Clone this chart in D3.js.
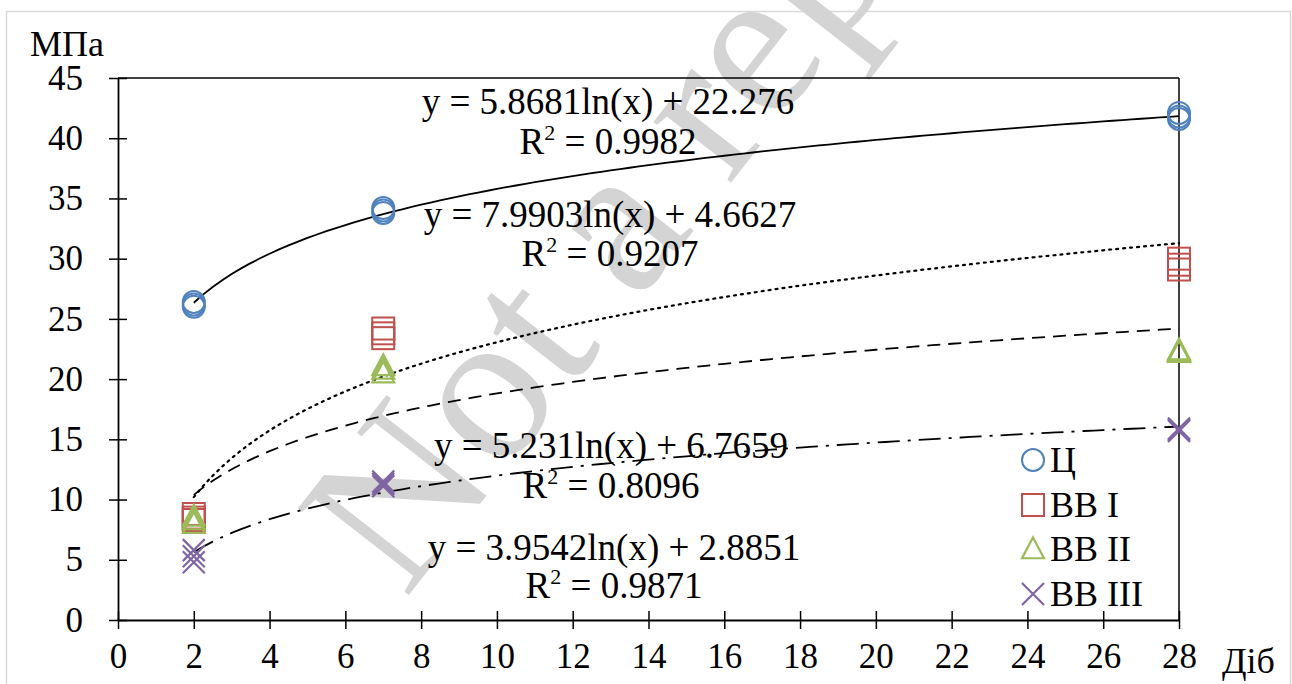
<!DOCTYPE html>
<html>
<head>
<meta charset="utf-8">
<script src="https://cdn.jsdelivr.net/npm/d3@7"></script>
<style>
  html, body { margin: 0; padding: 0; background: #fff; }
  svg { display: block; }
  text { font-family: "Liberation Serif", "Times New Roman", serif; fill: #000; }
</style>
</head>
<body>
<svg id="chart" width="1292" height="684"></svg>
<script>
// ---- data ----
const seriesNames = ["Ц", "ВВ I", "ВВ II", "ВВ III"];
const days = [2, 2, 2, 7, 7, 7, 28, 28, 28];
const valuesC    = [26.0, 26.2, 26.4, 33.8, 34.0, 34.2, 41.6, 41.8, 42.1];
const valuesBB1  = [8.3, 8.5, 8.8, 23.4, 23.8, 24.2, 29.1, 29.5, 30.0];
const valuesBB2  = [8.0, 8.3, 8.6, 20.5, 20.8, 21.1, 22.2, 22.3, 22.4];
const valuesBB3  = [4.8, 5.3, 5.8, 11.1, 11.3, 11.5, 15.7, 15.8, 15.9];
const trendA = [5.8681, 7.9903, 5.231, 3.9542];   // y = a*ln(x) + b
const trendB = [22.276, 4.6627, 6.7659, 2.8851];
const equationLabels = ["y = 5.8681ln(x) + 22.276", "y = 7.9903ln(x) + 4.6627",
                        "y = 5.231ln(x) + 6.7659", "y = 3.9542ln(x) + 2.8851"];
const r2Labels = ["0.9982", "0.9207", "0.8096", "0.9871"];
const xTicks = [0, 2, 4, 6, 8, 10, 12, 14, 16, 18, 20, 22, 24, 26, 28];
const yTicks = [0, 5, 10, 15, 20, 25, 30, 35, 40, 45];

const allValues = [valuesC, valuesBB1, valuesBB2, valuesBB3];
const colors = ["#4F81BD", "#C0504D", "#9BBB59", "#8064A2"];
const dashes = [null, "2,5", "13,8", "22,8,3,8"];
const shapes = ["circle", "square", "triangle", "cross"];

const svg = d3.select("#chart");
const m = { left: 118, right: 1179, top: 78, bottom: 620 };

// outer border
svg.append("rect").attr("x", 6.5).attr("y", 11.5).attr("width", 1284).attr("height", 700)
  .attr("fill", "#fff").attr("stroke", "#d9d9d9").attr("stroke-width", 1.5);

// watermark
svg.append("text").text("Not a rep")
  .attr("transform", "translate(405,600) rotate(-52)")
  .style("font-size", "215px").style("fill", "#d4d4d4");

const x = d3.scaleLinear().domain([0, 28]).range([m.left, m.right]);
const y = d3.scaleLinear().domain([0, 45]).range([m.bottom, m.top]);

// plot box (top & right lines)
svg.append("line").attr("x1", m.left).attr("x2", m.right).attr("y1", m.top).attr("y2", m.top)
  .attr("stroke", "#000").attr("stroke-width", 1.5);
svg.append("line").attr("x1", m.right).attr("x2", m.right).attr("y1", m.top).attr("y2", m.bottom)
  .attr("stroke", "#000").attr("stroke-width", 1.5);

// axes
const xAxis = d3.axisBottom(x).tickValues(xTicks).tickSizeInner(9).tickSizeOuter(0).tickPadding(14);
const yAxis = d3.axisLeft(y).tickValues(yTicks).tickSizeInner(9).tickSizeOuter(0).tickPadding(26);
const gx = svg.append("g").attr("transform", `translate(0,${m.bottom})`).call(xAxis);
const gy = svg.append("g").attr("transform", `translate(${m.left},0)`).call(yAxis);
[gx, gy].forEach(g => {
  g.select(".domain").attr("stroke", "#000").attr("stroke-width", 1.8);
  g.selectAll(".tick line").attr("stroke", "#000").attr("stroke-width", 1.5);
  g.selectAll(".tick text").style("font-size", "35px").style("font-family", "Liberation Serif");
});
gx.selectAll(".tick line").attr("y1", -9).attr("y2", 9);
gy.selectAll(".tick line").attr("x1", -9).attr("x2", 9);
gx.selectAll(".tick text").attr("dy", "0.71em");

// trend lines
const xs = d3.range(2, 28.001, 0.25);
trendA.forEach((a, i) => {
  const line = d3.line().x(d => x(d)).y(d => y(a * Math.log(d) + trendB[i]));
  svg.append("path").datum(xs).attr("d", line).attr("fill", "none")
    .attr("stroke", "#000").attr("stroke-width", i === 1 ? 2.2 : 1.8)
    .attr("stroke-dasharray", dashes[i])
    .attr("stroke-linecap", i === 1 ? "round" : "butt");
});

// markers
function drawMarker(g, shape, cx, cy, color, s) {
  if (shape === "circle") {
    g.append("circle").attr("cx", cx).attr("cy", cy).attr("r", s)
      .attr("fill", "none").attr("stroke", color).attr("stroke-width", 2);
  } else if (shape === "square") {
    g.append("rect").attr("x", cx - s).attr("y", cy - s).attr("width", 2 * s).attr("height", 2 * s)
      .attr("fill", "none").attr("stroke", color).attr("stroke-width", 2);
  } else if (shape === "triangle") {
    const h = s * 1.05;
    g.append("path").attr("d", `M${cx},${cy - h}L${cx + s},${cy + h * 0.8}L${cx - s},${cy + h * 0.8}Z`)
      .attr("fill", "none").attr("stroke", color).attr("stroke-width", 2.2);
  } else {
    g.append("path").attr("d", `M${cx - s},${cy - s}L${cx + s},${cy + s}M${cx - s},${cy + s}L${cx + s},${cy - s}`)
      .attr("fill", "none").attr("stroke", color).attr("stroke-width", 2.2);
  }
}
const gm = svg.append("g");
allValues.forEach((vals, i) => {
  vals.forEach((v, j) => drawMarker(gm, shapes[i], x(days[j]), y(v), colors[i], 11));
});

// equation labels
const eqPos = [[608, 114, 154], [610, 227, 266], [611, 458, 498], [614, 560, 598]];
equationLabels.forEach((t, i) => {
  svg.append("text").attr("x", eqPos[i][0]).attr("y", eqPos[i][1]).attr("text-anchor", "middle")
    .style("font-size", "37px").text(t);
  const tr = svg.append("text").attr("x", eqPos[i][0]).attr("y", eqPos[i][2]).attr("text-anchor", "middle")
    .style("font-size", "37px");
  tr.append("tspan").text("R");
  tr.append("tspan").attr("dy", -14).style("font-size", "22px").text("2");
  tr.append("tspan").attr("dy", 14).text(" = " + r2Labels[i]);
});

// axis titles
svg.append("text").attr("x", 30).attr("y", 56).style("font-size", "36px").text("МПа");
svg.append("text").attr("x", 1222).attr("y", 673).style("font-size", "36px").text("Діб");

// legend
const legY = [460, 505, 549, 594];
seriesNames.forEach((n, i) => {
  drawMarker(svg, shapes[i], 1033, legY[i], colors[i], 11);
  svg.append("text").attr("x", 1050).attr("y", legY[i] + 12).style("font-size", "36px").text(n);
});
</script>
</body>
</html>
